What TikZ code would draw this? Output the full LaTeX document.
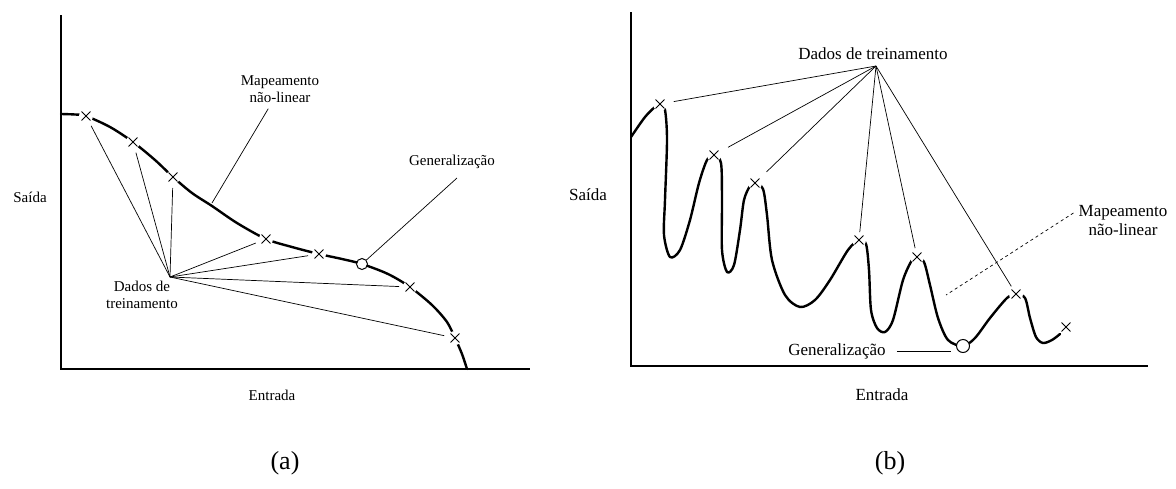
\documentclass[tikz,border=0pt]{standalone}
\usepackage{fontspec}
\setmainfont{Liberation Serif}
\usetikzlibrary{shapes.misc,positioning,calc}

\begin{document}
\begin{tikzpicture}[
  x=1pt, y=-1pt,
  font=\fontsize{15}{17}\selectfont,
  axisline/.style={line width=1.3pt},
  curve/.style={line width=2.4pt, line join=round, line cap=round},
  lead/.style={line width=0.7pt},
  xgap/.style={circle, fill=white, minimum size=14pt, inner sep=0pt},
  xmark/.style={cross out, draw, line width=0.9pt, minimum size=8pt, inner sep=0pt},
  genpt/.style={circle, draw, fill=white, line width=1pt, minimum size=11pt, inner sep=0pt},
  lbl/.style={align=center, inner sep=0pt},
  big/.style={font=\fontsize{17}{19}\selectfont},
  panel/.style={font=\fontsize{26}{28}\selectfont, inner sep=0pt}
]
\useasboundingbox (0,0) rectangle (1176,488);

% ---- (a) smooth mapping ----
\coordinate (aorig) at (61,369);
\draw[axisline] (61,15) -- (aorig) -- (530,369);

\draw[curve] plot[smooth, tension=0.5] coordinates {
  (61,114) (75,114.5) (86,116) (110,127) (133,142) (155,160) (173,177)
  (192,193) (212,206) (237,223) (266,239) (292,247) (319,254) (342,259)
  (362,264) (388,274) (410,287) (432,305) (447,322) (455,338) (462,354) (467,369)};

\coordinate (a1) at (86,116);
\coordinate (a2) at (133,142);
\coordinate (a3) at (173,177);
\coordinate (a4) at (266,239);
\coordinate (a5) at (319,254);
\coordinate (a6) at (410,287);
\coordinate (a7) at (455,338);
\coordinate (ahub) at (170,277);

\foreach \n in {1,...,7} {
  \node[xgap] at (a\n) {};
  \node[xmark] (ax\n) at (a\n) {};
  \draw[lead, shorten >=11pt] (ahub) -- (a\n);
}
\node[genpt] (agpt) at (362,264) {};

\node[lbl, anchor=north east] (adata) at (178,281) {Dados de\\treinamento};
\node[lbl] (amap) at (280,89) {Mapeamento\\não-linear};
\coordinate (amapend) at (212,203);
\draw[lead, shorten <=7pt] (amap) -- (amapend);
\node[lbl] (agen) at (452,162) {Generalização};
\draw[lead] ($(agen.south)+(5,9)$) -- (agpt);

\node[lbl] (aout) at (30,197) {Saída};
\node[lbl] (ain) at (272,395) {Entrada};
\node[panel] (acap) at (285,463) {(a)};

% ---- (b) overfitted mapping ----
\coordinate (borig) at (631,366);
\draw[axisline] (631,12) -- (borig) -- (1148,366);

\draw[curve] plot[smooth, tension=0.5] coordinates {
  (631,137) (645,117) (656,106) (660,104) (665,110) (667,140) (665,200)
  (664,235) (670,257) (680,250) (690,220) (699,183) (707,160) (714,155)
  (721,163) (722,200) (722,250) (727,272) (734,265) (740,230) (744,200)
  (750,186) (755,183) (763,189) (767,215) (772,260) (785,295) (800,307)
  (815,300) (830,280) (848,250) (859,240) (866,244) (869,270) (871,310)
  (877,328) (885,332) (893,320) (903,280) (912,260) (917,257) (924,262)
  (930,285) (938,318) (948,340) (963,346) (975,338) (990,318) (1007,298)
  (1016,294) (1025,298) (1030,318) (1036,337) (1043,343) (1052,340) (1060,334)};

\coordinate (b1) at (660,104);
\coordinate (b2) at (714,155);
\coordinate (b3) at (755,183);
\coordinate (b4) at (859,240);
\coordinate (b5) at (917,257);
\coordinate (b6) at (1016,294);
\coordinate (b7) at (1066,327);
\coordinate (bhub) at (876,66);

\foreach \n in {1,...,7} {
  \node[xgap] at (b\n) {};
  \node[xmark] (bx\n) at (b\n) {};
}
\foreach \n/\s in {1/14pt,2/16pt,3/16pt,4/8pt,5/9pt,6/9pt}
  \draw[lead, shorten >=\s] (bhub) -- (b\n);
\node[genpt, minimum size=13pt] (bgpt) at (963,346) {};

\node[lbl, big] (bdata) at (873,54) {Dados de treinamento};
\node[lbl, big] (bmap) at (1123,221) {Mapeamento\\não-linear};
\coordinate (bmapend) at (946,295);
\draw[lead, dashed] ($(bmap.west)+(-5,-8)$) -- (bmapend);
\node[lbl, big] (bgen) at (837,351) {Generalização};
\draw[lead, shorten <=11pt, shorten >=5pt] (bgen.east) -- (bgen.east -| bgpt.west);

\node[lbl, big] (bout) at (588,195) {Saída};
\node[lbl, big] (bin) at (882,395) {Entrada};
\node[panel] (bcap) at (890,463) {(b)};

\end{tikzpicture}
\end{document}
